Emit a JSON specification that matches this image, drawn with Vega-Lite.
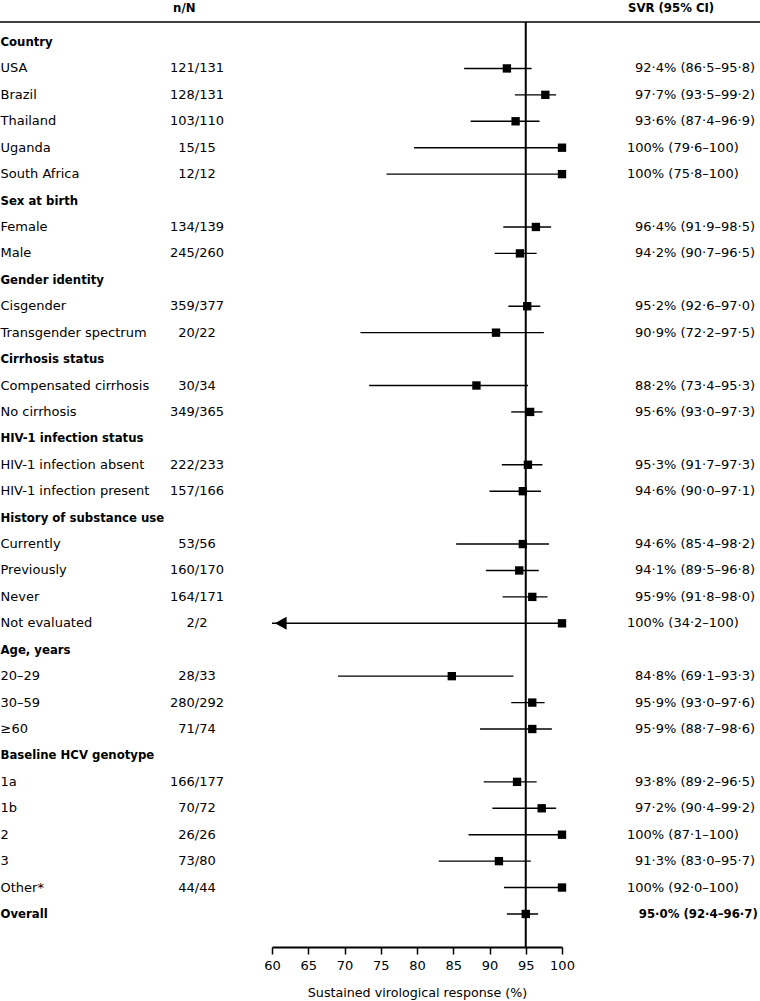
{
  "$schema": "https://vega.github.io/schema/vega-lite/v6.json",
  "autosize": "none",
  "width": 290,
  "height": 925,
  "padding": {"left": 272, "top": 22, "right": 198, "bottom": 54},
  "background": "white",
  "config": {"view": {"stroke": null}, "text": {"font": "DejaVu Sans", "fontSize": 13, "color": "black", "baseline": "middle"},
    "axisX": {"grid": false, "labelFlush": false, "labelOverlap": false, "tickCount": 9, "domainColor": "black", "domainWidth": 2, "tickColor": "black", "tickWidth": 1.5, "tickSize": 7, "labelFont": "DejaVu Sans", "labelFontSize": 13, "labelColor": "black", "labelPadding": 5, "titleFont": "DejaVu Sans", "titleFontSize": 12.7, "titleFontWeight": "normal", "titleColor": "black", "titlePadding": 14}},
  "data": {"values": [
    {"row": 1, "label": "Country", "kind": "h"},
    {"row": 2, "label": "USA", "kind": "i", "nN": "121/131", "est": 92.4, "lo": 86.5, "hi": 95.8, "ci": "92·4% (86·5–95·8)"},
    {"row": 3, "label": "Brazil", "kind": "i", "nN": "128/131", "est": 97.7, "lo": 93.5, "hi": 99.2, "ci": "97·7% (93·5–99·2)"},
    {"row": 4, "label": "Thailand", "kind": "i", "nN": "103/110", "est": 93.6, "lo": 87.4, "hi": 96.9, "ci": "93·6% (87·4–96·9)"},
    {"row": 5, "label": "Uganda", "kind": "i", "nN": "15/15", "est": 100, "lo": 79.6, "hi": 100, "ci": "100% (79·6–100)"},
    {"row": 6, "label": "South Africa", "kind": "i", "nN": "12/12", "est": 100, "lo": 75.8, "hi": 100, "ci": "100% (75·8–100)"},
    {"row": 7, "label": "Sex at birth", "kind": "h"},
    {"row": 8, "label": "Female", "kind": "i", "nN": "134/139", "est": 96.4, "lo": 91.9, "hi": 98.5, "ci": "96·4% (91·9–98·5)"},
    {"row": 9, "label": "Male", "kind": "i", "nN": "245/260", "est": 94.2, "lo": 90.7, "hi": 96.5, "ci": "94·2% (90·7–96·5)"},
    {"row": 10, "label": "Gender identity", "kind": "h"},
    {"row": 11, "label": "Cisgender", "kind": "i", "nN": "359/377", "est": 95.2, "lo": 92.6, "hi": 97.0, "ci": "95·2% (92·6–97·0)"},
    {"row": 12, "label": "Transgender spectrum", "kind": "i", "nN": "20/22", "est": 90.9, "lo": 72.2, "hi": 97.5, "ci": "90·9% (72·2–97·5)"},
    {"row": 13, "label": "Cirrhosis status", "kind": "h"},
    {"row": 14, "label": "Compensated cirrhosis", "kind": "i", "nN": "30/34", "est": 88.2, "lo": 73.4, "hi": 95.3, "ci": "88·2% (73·4–95·3)"},
    {"row": 15, "label": "No cirrhosis", "kind": "i", "nN": "349/365", "est": 95.6, "lo": 93.0, "hi": 97.3, "ci": "95·6% (93·0–97·3)"},
    {"row": 16, "label": "HIV-1 infection status", "kind": "h"},
    {"row": 17, "label": "HIV-1 infection absent", "kind": "i", "nN": "222/233", "est": 95.3, "lo": 91.7, "hi": 97.3, "ci": "95·3% (91·7–97·3)"},
    {"row": 18, "label": "HIV-1 infection present", "kind": "i", "nN": "157/166", "est": 94.6, "lo": 90.0, "hi": 97.1, "ci": "94·6% (90·0–97·1)"},
    {"row": 19, "label": "History of substance use", "kind": "h"},
    {"row": 20, "label": "Currently", "kind": "i", "nN": "53/56", "est": 94.6, "lo": 85.4, "hi": 98.2, "ci": "94·6% (85·4–98·2)"},
    {"row": 21, "label": "Previously", "kind": "i", "nN": "160/170", "est": 94.1, "lo": 89.5, "hi": 96.8, "ci": "94·1% (89·5–96·8)"},
    {"row": 22, "label": "Never", "kind": "i", "nN": "164/171", "est": 95.9, "lo": 91.8, "hi": 98.0, "ci": "95·9% (91·8–98·0)"},
    {"row": 23, "label": "Not evaluated", "kind": "i", "nN": "2/2", "est": 100, "lo": 34.2, "hi": 100, "ci": "100% (34·2–100)"},
    {"row": 24, "label": "Age, years", "kind": "h"},
    {"row": 25, "label": "20–29", "kind": "i", "nN": "28/33", "est": 84.8, "lo": 69.1, "hi": 93.3, "ci": "84·8% (69·1–93·3)"},
    {"row": 26, "label": "30–59", "kind": "i", "nN": "280/292", "est": 95.9, "lo": 93.0, "hi": 97.6, "ci": "95·9% (93·0–97·6)"},
    {"row": 27, "label": "≥60", "kind": "i", "nN": "71/74", "est": 95.9, "lo": 88.7, "hi": 98.6, "ci": "95·9% (88·7–98·6)"},
    {"row": 28, "label": "Baseline HCV genotype", "kind": "h"},
    {"row": 29, "label": "1a", "kind": "i", "nN": "166/177", "est": 93.8, "lo": 89.2, "hi": 96.5, "ci": "93·8% (89·2–96·5)"},
    {"row": 30, "label": "1b", "kind": "i", "nN": "70/72", "est": 97.2, "lo": 90.4, "hi": 99.2, "ci": "97·2% (90·4–99·2)"},
    {"row": 31, "label": "2", "kind": "i", "nN": "26/26", "est": 100, "lo": 87.1, "hi": 100, "ci": "100% (87·1–100)"},
    {"row": 32, "label": "3", "kind": "i", "nN": "73/80", "est": 91.3, "lo": 83.0, "hi": 95.7, "ci": "91·3% (83·0–95·7)"},
    {"row": 33, "label": "Other*", "kind": "i", "nN": "44/44", "est": 100, "lo": 92.0, "hi": 100, "ci": "100% (92·0–100)"},
    {"row": 34, "label": "Overall", "kind": "o", "est": 95.0, "lo": 92.4, "hi": 96.7, "ci": "95·0% (92·4–96·7)"}
  ]},
  "encoding": {
    "y": {"field": "row", "type": "quantitative", "scale": {"domain": [0.243, 35.25], "reverse": true, "nice": false, "zero": false}, "axis": null}
  },
  "layer": [
    {
      "transform": [{"filter": "isValid(datum.est) && datum.lo >= 60"}],
      "mark": {"type": "rule", "color": "black", "strokeWidth": 1.4},
      "encoding": {
        "x": {"field": "lo", "type": "quantitative", "scale": {"domain": [60, 100], "nice": false, "zero": false},
          "axis": {"values": [60, 65, 70, 75, 80, 85, 90, 95, 100], "title": "Sustained virological response (%)"}},
        "x2": {"field": "hi"}
      }
    },
    {
      "data": {"values": [{"from": 22.48, "to": 127.4, "at": 0.243}]},
      "mark": {"type": "rule", "color": "black", "strokeWidth": 1.5},
      "encoding": {
        "x": {"field": "from", "type": "quantitative", "axis": {"values": [60, 65, 70, 75, 80, 85, 90, 95, 100], "title": "Sustained virological response (%)"}},
        "x2": {"field": "to"},
        "y": {"field": "at", "type": "quantitative"}
      }
    },
    {
      "data": {"values": [{"ref": 95}]},
      "mark": {"type": "rule", "color": "black", "strokeWidth": 2},
      "encoding": {"x": {"field": "ref", "type": "quantitative", "axis": {"values": [60, 65, 70, 75, 80, 85, 90, 95, 100], "title": "Sustained virological response (%)"}}, "y": null}
    },
    {
      "transform": [{"filter": "isValid(datum.lo) && datum.lo < 60"}],
      "mark": {"type": "rule", "color": "black", "strokeWidth": 1.4},
      "encoding": {"x": {"field": "hi", "type": "quantitative", "axis": {"values": [60, 65, 70, 75, 80, 85, 90, 95, 100], "title": "Sustained virological response (%)"}}, "x2": {"datum": 60}}
    },
    {
      "transform": [{"filter": "isValid(datum.lo) && datum.lo < 60"}],
      "mark": {"type": "point", "shape": "M0,0L1.8,-1L1.8,1Z", "filled": true, "color": "black", "size": 170, "opacity": 1},
      "encoding": {"x": {"datum": 60.4}}
    },
    {
      "transform": [{"filter": "isValid(datum.est)"}],
      "mark": {"type": "point", "shape": "square", "filled": true, "color": "black", "size": 70, "opacity": 1},
      "encoding": {"x": {"field": "est", "type": "quantitative", "axis": {"values": [60, 65, 70, 75, 80, 85, 90, 95, 100], "title": "Sustained virological response (%)"}}}
    },
    {
      "transform": [{"filter": "datum.kind == 'i'"}],
      "mark": {"type": "text", "align": "left"},
      "encoding": {"x": {"datum": 22.55}, "text": {"field": "label"}}
    },
    {
      "transform": [{"filter": "datum.kind != 'i'"}],
      "mark": {"type": "text", "align": "left", "fontWeight": "bold", "font": "DejaVu Sans Condensed"},
      "encoding": {"x": {"datum": 22.55}, "text": {"field": "label"}}
    },
    {
      "transform": [{"filter": "datum.kind == 'i'"}],
      "mark": {"type": "text", "align": "center"},
      "encoding": {"x": {"datum": 49.66}, "text": {"field": "nN"}}
    },
    {
      "transform": [{"filter": "datum.kind == 'i' && datum.est == 100"}],
      "mark": {"type": "text", "align": "left"},
      "encoding": {"x": {"datum": 108.97}, "text": {"field": "ci"}}
    },
    {
      "transform": [{"filter": "datum.kind == 'i' && datum.est < 100"}],
      "mark": {"type": "text", "align": "left"},
      "encoding": {"x": {"datum": 110.07}, "text": {"field": "ci"}}
    },
    {
      "transform": [{"filter": "datum.kind == 'o'"}],
      "mark": {"type": "text", "align": "right", "fontWeight": "bold", "font": "DejaVu Sans Condensed", "fontSize": 13},
      "encoding": {"x": {"datum": 127.0}, "text": {"field": "ci"}}
    },
    {
      "data": {"values": [{"h": "n/N", "at": -0.287}]},
      "mark": {"type": "text", "align": "center", "fontWeight": "bold", "font": "DejaVu Sans Condensed"},
      "encoding": {"x": {"datum": 47.9}, "y": {"field": "at", "type": "quantitative"}, "text": {"field": "h"}}
    },
    {
      "data": {"values": [{"h": "SVR (95% CI)", "at": -0.287}]},
      "mark": {"type": "text", "align": "left", "fontWeight": "bold", "font": "DejaVu Sans Condensed"},
      "encoding": {"x": {"datum": 109.1}, "y": {"field": "at", "type": "quantitative"}, "text": {"field": "h"}}
    }
  ]
}
